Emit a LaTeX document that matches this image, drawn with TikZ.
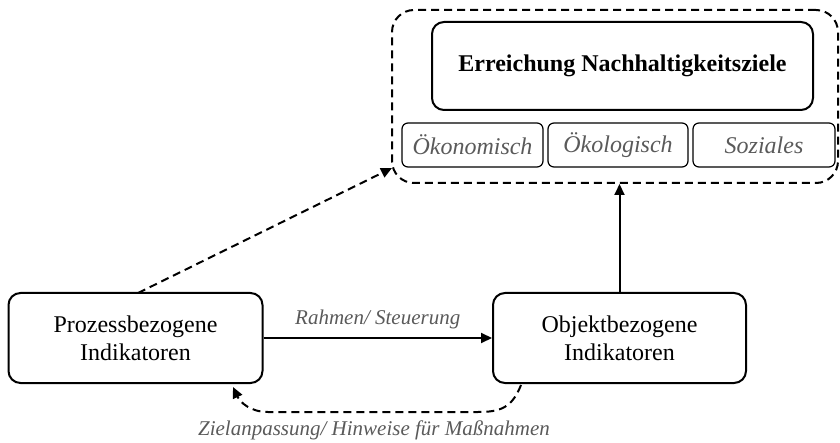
\documentclass[tikz,border=0pt]{standalone}
\usepackage{fontspec}
\setmainfont{Liberation Serif}[ItalicFont={Liberation Serif Italic},BoldFont={Liberation Serif Bold}]
\usetikzlibrary{arrows.meta}
\definecolor{labelgray}{RGB}{90,90,90}
\begin{document}
\begin{tikzpicture}[x=1pt,y=-1pt,
  box/.style={draw,line width=2pt,rounded corners=12pt,align=center,inner sep=0pt},
  subbox/.style={draw,line width=1.2pt,rounded corners=6pt,inner sep=0pt,text=labelgray,font=\fontsize{24}{28}\selectfont\itshape},
  lbl/.style={text=labelgray,font=\fontsize{21}{24}\selectfont\itshape},
  dashline/.style={line width=2pt,dash pattern=on 8pt off 5pt},
  arr/.style={-{Triangle[length=11pt,width=10pt]}}]
\useasboundingbox (0,0) rectangle (840,443);
% outer frame of the goal group
\node[draw,dashline,rounded corners=22pt,minimum width=446pt,minimum height=173pt,inner sep=0pt] (goals) at (615,96.5) {};
\node[box,minimum width=381pt,minimum height=88pt,font=\fontsize{24}{28}\selectfont\bfseries] (ziel) at (622.5,66) {Erreichung Nachhaltigkeitsziele};
\node[subbox,minimum width=141pt,minimum height=44pt] (oeko) at (472.5,145) {Ökonomisch};
\node[subbox,minimum width=140pt,minimum height=44pt] (oekol) at (618,145) {Ökologisch};
\node[subbox,minimum width=142pt,minimum height=44pt] (soz) at (764,145) {Soziales};
% indicator boxes
\node[box,minimum width=254pt,minimum height=90pt,font=\fontsize{24}{28}\selectfont] (proz) at (135.5,338) {Prozessbezogene\\Indikatoren};
\node[box,minimum width=253pt,minimum height=90pt,font=\fontsize{24}{28}\selectfont] (obj) at (619.5,338) {Objektbezogene\\Indikatoren};
% connectors
\draw[arr,line width=2pt] (proz.east) -- node[lbl,above=5pt] {Rahmen/ Steuerung} (obj.west);
\draw[arr,line width=2pt] (obj.north) -- (obj.north |- goals.south);
\coordinate (diagtip) at (392,168);
\draw[arr,dashline] (138,293) -- (diagtip);
\draw[arr,dashline] (521,385) .. controls (512,408) and (500,412) .. (478,412)
  -- (268,412) .. controls (250,412) and (240,402) .. (233,387);
\node[lbl] (feedlbl) at (374,430) {Zielanpassung/ Hinweise für Maßnahmen};
\end{tikzpicture}
\end{document}
